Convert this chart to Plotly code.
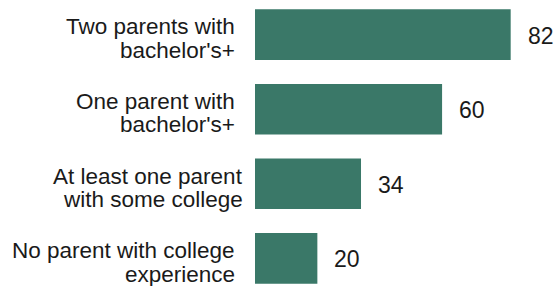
import plotly.graph_objects as go

categories = [
    "Two parents with<br>bachelor's+",
    "One parent with<br>bachelor's+",
    "At least one parent<br>with some college",
    "No parent with college<br>experience",
]
values = [82, 60, 34, 20]

# styling: gap between each category label and the bar axis (px)
label_gaps = [18, 18, 10, 18]

BAR_COLOR = "#3a7868"
TEXT_COLOR = "#1a1a1a"
FONT = "Liberation Sans, Arial, sans-serif"
FS = 22.5
LINE_PITCH = 23.5

fig = go.Figure(
    go.Bar(
        x=values,
        y=categories,
        orientation="h",
        marker=dict(color=BAR_COLOR, line=dict(width=0)),
        width=0.68,
        hoverinfo="skip",
    )
)

annotations = []
for cat, val, gap in zip(categories, values, label_gaps):
    annotations.append(dict(
        x=val, y=cat, xref="x", yref="y", text=str(val),
        xanchor="left", yanchor="middle", xshift=15, yshift=-1, showarrow=False,
        font=dict(family=FONT, size=23, color=TEXT_COLOR),
    ))
    lines = cat.split("<br>")
    n = len(lines)
    for j, line in enumerate(lines):
        annotations.append(dict(
            x=0, y=cat, xref="x", yref="y", text=line,
            xanchor="right", yanchor="middle", xshift=-gap,
            yshift=((n - 1) / 2 - j) * LINE_PITCH - 4,
            showarrow=False,
            font=dict(family=FONT, size=FS, color=TEXT_COLOR),
        ))

fig.update_layout(
    width=560,
    height=286,
    margin=dict(l=255, r=0, t=0, b=0),
    paper_bgcolor="white",
    plot_bgcolor="white",
    showlegend=False,
    xaxis=dict(range=[0, 305 / 3.118], visible=False, fixedrange=True),
    yaxis=dict(
        type="category",
        categoryorder="array",
        categoryarray=categories,
        range=[3.3717, -0.4656],
        showticklabels=False,
        showgrid=False,
        zeroline=False,
        showline=False,
        fixedrange=True,
    ),
    annotations=annotations,
)

fig.write_html(
    "out.html",
    config={"displayModeBar": False},
    post_script="document.body.style.margin='0';document.body.style.overflow='hidden';",
)
